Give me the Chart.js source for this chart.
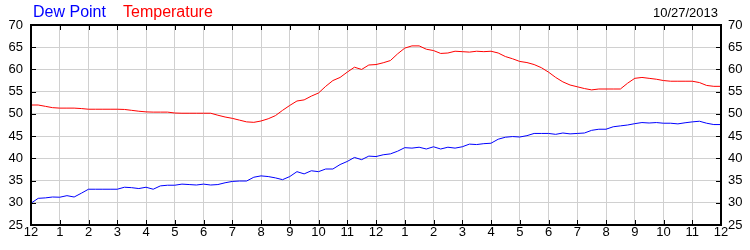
<!DOCTYPE html>
<html>
<head>
<meta charset="utf-8">
<script src="https://cdn.jsdelivr.net/npm/chart.js@4"></script>
<style>
  html, body { margin: 0; padding: 0; background: #fff; }
  canvas { display: block; }
</style>
</head>
<body>
<canvas id="myChart" width="750" height="250"></canvas>
<script>
// readings every 15 minutes, midnight to midnight
const stepHours = 0.25;
const hourLabels = ["12", "1", "2", "3", "4", "5", "6", "7", "8", "9", "10", "11",
                    "12", "1", "2", "3", "4", "5", "6", "7", "8", "9", "10", "11", "12"];
const yTicks = [25, 30, 35, 40, 45, 50, 55, 60, 65, 70];
const dateText = "10/27/2013";

const temperature = [
  52.0, 52.0, 51.7, 51.4,
  51.3, 51.3, 51.3, 51.2,
  51.05, 51.05, 51.05, 51.05,
  51.05, 51.0, 50.8, 50.6,
  50.45, 50.4, 50.4, 50.4,
  50.2, 50.15, 50.15, 50.15,
  50.15, 50.15, 49.7, 49.3,
  49.0, 48.6, 48.2, 48.1,
  48.4, 48.9, 49.6, 50.8,
  51.9, 52.9, 53.15, 54.0,
  54.7, 56.2, 57.5, 58.2,
  59.4, 60.5, 60.0, 61.0,
  61.1, 61.5, 62.0, 63.5,
  64.8, 65.3, 65.3, 64.55,
  64.25, 63.6, 63.7, 64.1,
  64.0, 63.9, 64.1, 64.0,
  64.1, 63.7, 62.9, 62.4,
  61.8, 61.55, 61.1, 60.4,
  59.4, 58.2, 57.2, 56.5,
  56.1, 55.7, 55.4, 55.6,
  55.6, 55.6, 55.6, 56.9,
  58.0, 58.2, 58.0, 57.8,
  57.5, 57.35, 57.35, 57.35,
  57.35, 57.05, 56.4, 56.2,
  56.2
];

const dewPoint = [
  29.9, 31.0, 31.1, 31.3,
  31.25, 31.6, 31.3, 32.15,
  33.05, 33.05, 33.05, 33.05,
  33.05, 33.5, 33.4, 33.2,
  33.5, 33.05, 33.8, 33.95,
  33.95, 34.2, 34.1, 34.0,
  34.2, 34.0, 34.1, 34.5,
  34.8, 34.9, 34.9, 35.75,
  36.05, 35.9, 35.6, 35.2,
  35.9, 37.0, 36.5, 37.2,
  37.0, 37.6, 37.6, 38.6,
  39.3, 40.2, 39.7, 40.5,
  40.4, 40.8, 41.0, 41.6,
  42.4, 42.3, 42.5, 42.1,
  42.6, 42.1, 42.5, 42.3,
  42.6, 43.2, 43.1, 43.3,
  43.4, 44.3, 44.75, 44.9,
  44.8, 45.1, 45.6, 45.6,
  45.6, 45.4, 45.7, 45.5,
  45.6, 45.7, 46.3, 46.55,
  46.55, 47.1, 47.3, 47.5,
  47.8, 48.05, 47.95, 48.05,
  47.9, 47.9, 47.75, 48.0,
  48.2, 48.35, 47.9, 47.6,
  47.6
];

const toPoints = (arr) => arr.map((v, i) => ({ x: i * stepHours, y: v }));

Chart.defaults.font.family = "'Liberation Sans', Arial, sans-serif";
Chart.defaults.color = "#000";

// black frame, inward tick marks, header text
const framePlugin = {
  id: "frame",
  afterDraw(chart) {
    const { ctx, chartArea: a } = chart;
    const xs = chart.scales.x;
    const yl = chart.scales.y;
    ctx.save();
    ctx.strokeStyle = "#000";
    ctx.lineWidth = 1;
    ctx.beginPath();
    xs.ticks.forEach((t) => {
      const px = Math.round(xs.getPixelForValue(t.value)) + 0.5;
      ctx.moveTo(px, a.bottom);
      ctx.lineTo(px, a.bottom - 5);
      ctx.moveTo(px, a.top);
      ctx.lineTo(px, a.top + 5);
    });
    yl.ticks.forEach((t) => {
      const py = Math.round(yl.getPixelForValue(t.value)) + 0.5;
      ctx.moveTo(a.left, py);
      ctx.lineTo(a.left + 5, py);
      ctx.moveTo(a.right, py);
      ctx.lineTo(a.right - 5, py);
    });
    ctx.stroke();
    ctx.lineWidth = 2;
    ctx.strokeRect(a.left, a.top, a.right - a.left, a.bottom - a.top);

    ctx.font = "16px 'Liberation Sans', Arial, sans-serif";
    ctx.textBaseline = "alphabetic";
    ctx.textAlign = "left";
    ctx.fillStyle = "#0000ff";
    ctx.fillText("Dew Point", 33, 17);
    ctx.fillStyle = "#ff0000";
    ctx.fillText("Temperature", 123, 17);
    ctx.font = "13px 'Liberation Sans', Arial, sans-serif";
    ctx.fillStyle = "#000";
    ctx.textAlign = "right";
    ctx.fillText(dateText, 718, 17);
    ctx.restore();
  }
};

const ctx = document.getElementById("myChart");

new Chart(ctx, {
  type: "line",
  data: {
    datasets: [
      {
        label: "Temperature",
        data: toPoints(temperature),
        borderColor: "#ff0000",
        borderWidth: 1,
        pointRadius: 0,
        tension: 0,
      },
      {
        label: "Dew Point",
        data: toPoints(dewPoint),
        borderColor: "#0000ff",
        borderWidth: 1,
        pointRadius: 0,
        tension: 0,
      },
    ],
  },
  options: {
    responsive: false,
    animation: false,
    events: [],
    layout: { padding: { top: 25, left: 0, right: 0, bottom: 0 } },
    plugins: {
      legend: { display: false },
      tooltip: { enabled: false },
    },
    scales: {
      x: {
        type: "linear",
        min: 0,
        max: 24,
        afterFit: (s) => { s.height = 25; },
        grid: { color: "#d0d0d0", drawTicks: false },
        border: { display: false },
        ticks: {
          stepSize: 1,
          autoSkip: false,
          maxRotation: 0,
          padding: 0,
          font: { size: 13 },
          callback: (v) => hourLabels[v],
        },
      },
      y: {
        position: "left",
        min: 25,
        max: 70,
        afterFit: (s) => { s.width = 31; },
        grid: { color: "#d0d0d0", drawTicks: false },
        border: { display: false },
        ticks: { stepSize: 5, padding: 8, font: { size: 13 } },
        afterBuildTicks: (s) => { s.ticks = yTicks.map((v) => ({ value: v })); },
      },
      y1: {
        position: "right",
        min: 25,
        max: 70,
        afterFit: (s) => { s.width = 29; },
        grid: { display: false, drawTicks: false },
        border: { display: false },
        ticks: { stepSize: 5, padding: 7, font: { size: 13 } },
        afterBuildTicks: (s) => { s.ticks = yTicks.map((v) => ({ value: v })); },
      },
    },
  },
  plugins: [framePlugin],
});
</script>
</body>
</html>
